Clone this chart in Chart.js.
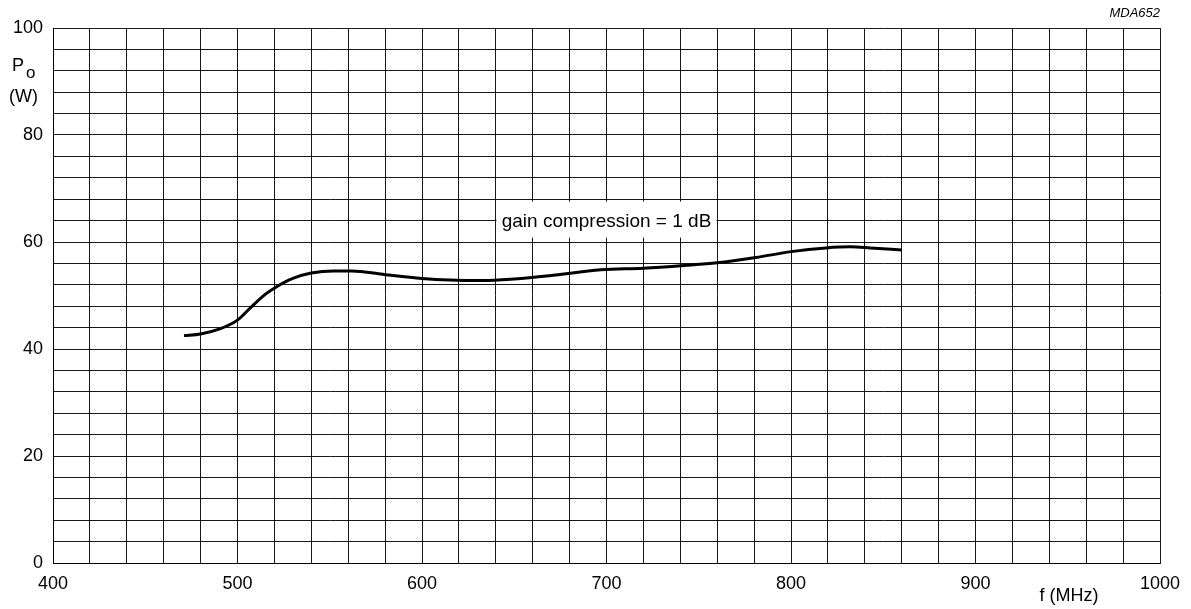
<!DOCTYPE html>
<html>
<head>
<meta charset="utf-8">
<script src="https://cdn.jsdelivr.net/npm/chart.js@4.4.1/dist/chart.umd.min.js"></script>
<style>
  html, body { margin: 0; padding: 0; background: #fff; }
  #wrap { width: 1191px; height: 609px; }
</style>
</head>
<body>
<div id="wrap"><canvas id="chart" width="1191" height="609"></canvas></div>
<script>
// ---- data ----
const freqMHz = [471, 480, 490, 500, 507, 515, 521, 530, 540, 552, 562, 580, 600, 615, 633, 650, 669, 697, 720, 742, 760, 781, 800, 819, 832, 843, 860];
const powerW  = [42.5, 42.8, 43.7, 45.4, 47.7, 50.2, 51.6, 53.2, 54.2, 54.6, 54.6, 53.9, 53.2, 52.9, 52.8, 53.1, 53.7, 54.8, 55.1, 55.6, 56.1, 57.1, 58.2, 58.9, 59.1, 58.9, 58.5];
const xTickLabels = [400, 500, 600, 700, 800, 900, 1000];
const yTickLabels = [0, 20, 40, 60, 80, 100];
const curveLabel = 'gain compression = 1 dB';
const labelAt = { x: 700, y: 64 };

const FONT = '"Liberation Sans", Arial, Helvetica, sans-serif';
const GRID = 'rgba(0,0,0,0.9)';

// texts drawn on the canvas: axis names, figure code, label box on the curve
const textPlugin = {
    id: 'texts',
    beforeDatasetsDraw(chart) {
        const { ctx, scales } = chart;
        const cx = scales.x.getPixelForValue(labelAt.x);
        const cy = scales.y.getPixelForValue(labelAt.y);
        ctx.save();
        ctx.fillStyle = '#fff';
        ctx.fillRect(cx - 110, cy - 19, 220, 36);
        ctx.fillStyle = '#000';
        ctx.font = '19px ' + FONT;
        ctx.textAlign = 'center';
        ctx.textBaseline = 'middle';
        ctx.fillText(curveLabel, cx, cy + 1);
        ctx.restore();
    },
    afterDraw(chart) {
        const ctx = chart.ctx;
        ctx.save();
        ctx.fillStyle = '#000';
        ctx.textBaseline = 'alphabetic';
        ctx.textAlign = 'left';
        ctx.font = '18px ' + FONT;
        ctx.fillText('P', 12, 71);
        ctx.font = '17px ' + FONT;
        ctx.fillText('o', 26, 78);
        ctx.font = '18px ' + FONT;
        ctx.fillText('(W)', 9, 102);
        ctx.textAlign = 'center';
        ctx.fillText('f (MHz)', 1069, 601);
        ctx.font = 'italic 13px ' + FONT;
        ctx.textAlign = 'right';
        ctx.fillText('MDA652', 1160, 17);
        ctx.restore();
    }
};

new Chart(document.getElementById('chart'), {
    type: 'line',
    data: {
        datasets: [{
            data: freqMHz.map((f, i) => ({ x: f, y: powerW[i] })),
            borderColor: '#000',
            borderWidth: 3,
            pointRadius: 0,
            tension: 0.4,
            cubicInterpolationMode: 'monotone',
            fill: false
        }]
    },
    options: {
        responsive: false,
        animation: false,
        layout: { padding: { top: 28, right: 31, left: 0, bottom: 0 } },
        plugins: { legend: { display: false }, tooltip: { enabled: false } },
        scales: {
            x: {
                type: 'linear',
                min: 400,
                max: 1000,
                afterFit(scale) { scale.height = 46; },
                grid: { color: GRID, lineWidth: 1, drawTicks: false },
                border: { color: GRID, width: 1 },
                ticks: {
                    stepSize: 20,
                    autoSkip: false,
                    maxRotation: 0,
                    padding: 10,
                    color: '#000',
                    font: { family: FONT, size: 18 },
                    callback: v => xTickLabels.includes(v) ? String(v) : ''
                }
            },
            y: {
                min: 0,
                max: 100,
                afterFit(scale) { scale.width = 53; },
                grid: { color: GRID, lineWidth: 1, drawTicks: false },
                border: { color: GRID, width: 1 },
                ticks: {
                    stepSize: 4,
                    autoSkip: false,
                    padding: 10,
                    color: '#000',
                    font: { family: FONT, size: 18 },
                    callback: v => yTickLabels.includes(v) ? String(v) : ''
                }
            }
        }
    },
    plugins: [textPlugin]
});
</script>
</body>
</html>
